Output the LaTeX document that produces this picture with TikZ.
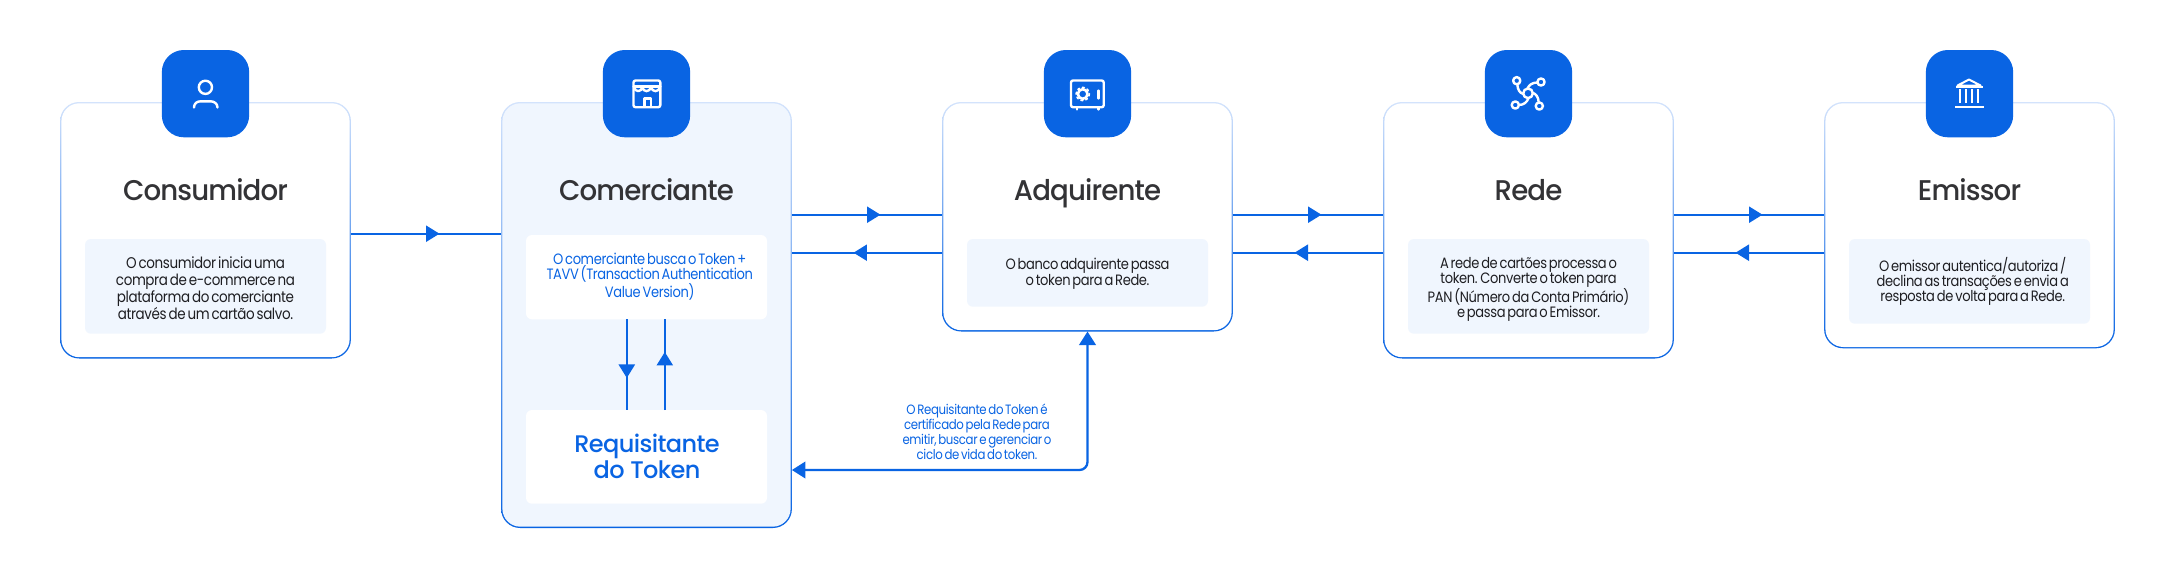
\documentclass[tikz,border=0pt]{standalone}
\usepackage{fontspec}
\setmainfont{Poppins}[FakeStretch=0.87,LetterSpace=-2.5,WordSpace=0.6]
\newfontfamily\medfont{Poppins Medium}[LetterSpace=-2.5]
\newfontfamily\headfont{Poppins Medium}[FakeStretch=0.97,LetterSpace=-3]
\usetikzlibrary{arrows.meta,decorations.markings}
\definecolor{brand}{HTML}{0964E3}
\definecolor{pale}{HTML}{F0F6FE}
\definecolor{edgetop}{HTML}{D3E3FC}
\definecolor{ink}{HTML}{333336}
\definecolor{bodyink}{HTML}{1E1E22}
\tikzset{
  x=1pt,y=-1pt,
  cardedge/.style={shape=rectangle,inner sep=0pt,outer sep=0pt,rounded corners=19pt,top color=edgetop,bottom color=brand,minimum width=290.8pt},
  cardfill/.style={shape=rectangle,inner sep=0pt,outer sep=0pt,rounded corners=18pt,fill=white,minimum width=288.2pt},
  notebox/.style={shape=rectangle,inner sep=0pt,outer sep=0pt,rounded corners=6pt,fill=pale,minimum width=241pt},
  iconbox/.style={shape=rectangle,inner sep=0pt,outer sep=0pt,rounded corners=22pt,fill=brand,minimum width=87.3pt,minimum height=87.3pt},
  titletext/.style={text=ink,font=\headfont\fontsize{28.5}{32}\selectfont,inner sep=0pt,anchor=base},
  bodytext/.style={text=bodyink,align=center,inner sep=0pt,text depth=4pt},
  flow/.style={draw=brand,line width=2.3pt},
  midarrow/.style={postaction={decorate},decoration={markings,mark=at position #1 with {\arrow{Triangle[length=13.5pt,width=16pt,fill=brand]}}}},
  glyph/.style={draw=white,line width=2.4pt,line cap=round,line join=round,fill=none},
}
\begin{document}
\begin{tikzpicture}
\useasboundingbox (0,0) rectangle (2175,579);
\fill[white] (0,0) rectangle (2175,579);
% cards
\node[cardedge,minimum height=256.5pt] (cons) at (205.5,230.25) {};
\node[cardedge,minimum height=426pt] (com) at (646.5,315) {};
\node[cardedge,minimum height=229.5pt] (adq) at (1087.5,216.75) {};
\node[cardedge,minimum height=256.5pt] (rede) at (1528.5,230.25) {};
\node[cardedge,minimum height=246.3pt] (emi) at (1969.5,225.15) {};
\node[cardfill,minimum height=253.9pt] (consin) at (205.5,230.25) {};
\node[cardfill,fill=pale,minimum height=423.4pt] (comin) at (646.5,315) {};
\node[cardfill,minimum height=226.9pt] (adqin) at (1087.5,216.75) {};
\node[cardfill,minimum height=253.9pt] (redein) at (1528.5,230.25) {};
\node[cardfill,minimum height=243.7pt] (emiin) at (1969.5,225.15) {};
% inner boxes
\node[notebox,minimum height=94.7pt] (consnote) at (205.5,286.35) {};
\node[notebox,fill=white,minimum height=84.3pt] (comnote) at (646.5,277.15) {};
\node[notebox,fill=white,minimum height=93.7pt] (reqbox) at (646.5,456.85) {};
\node[notebox,minimum height=67.7pt] (adqnote) at (1087.5,272.85) {};
\node[notebox,minimum height=94.7pt] (redenote) at (1528.5,286.35) {};
\node[notebox,minimum height=84.7pt] (eminote) at (1969.5,281.35) {};
% icon boxes
\node[iconbox] (consicon) at (205.5,93.65) {};
\node[iconbox] (comicon) at (646.5,93.65) {};
\node[iconbox] (adqicon) at (1087.5,93.65) {};
\node[iconbox] (redeicon) at (1528.5,93.65) {};
\node[iconbox] (emiicon) at (1969.5,93.65) {};
% titles
\node[titletext] (t1) at (205.5,200.5) {Consumidor};
\node[titletext] (t2) at (646.5,200.5) {Comerciante};
\node[titletext] (t3) at (1087.5,200.5) {Adquirente};
\node[titletext] (t4) at (1528.5,200.5) {Rede};
\node[titletext] (t5) at (1969.5,200.5) {Emissor};
% body texts
\node[bodytext,font=\fontsize{15.5}{17}\selectfont] (b1) at (205.5,290) {O consumidor inicia uma\\compra de e-commerce na\\plataforma do comerciante\\através de um cartão salvo.};
\node[bodytext,text=brand,font=\fontsize{15}{15}\selectfont] (b2) at (649.7,277.5) {O comerciante busca o Token +\\TAVV (Transaction Authentication\\Value Version)};
\node[bodytext,font=\fontsize{15}{16}\selectfont] (b3) at (1087.5,274) {O banco adquirente passa\\o token para a Rede.};
\node[bodytext,font=\fontsize{15}{15}\selectfont] (b4) at (1528.5,289) {A rede de cartões processa o\\token. Converte o token para\\PAN (Número da Conta Primário)\\e passa para o Emissor.};
\node[bodytext,font=\fontsize{15}{15}\selectfont] (b5) at (1972.7,281) {O emissor autentica/autoriza /\\declina as transações e envia a\\resposta de volta para a Rede.};
\node[bodytext,text=brand,font=\medfont\fontsize{24}{26.5}\selectfont] (b6) at (647,458) {Requisitante\\do Token};
\node[bodytext,text=brand,font=\fontsize{13.5}{13.2}\selectfont] (b7) at (977,433.5) {O Requisitante do Token é\\certificado pela Rede para\\emitir, buscar e gerenciar o\\ciclo de vida do token.};
% connector levels
\coordinate (ya) at (0,233.7);
\coordinate (yf) at (0,214.7);
\coordinate (yr) at (0,252.7);
\coordinate (yb) at (0,470);
\coordinate (xd) at (626.8,0);
\coordinate (xu) at (664.8,0);
% connectors
\draw[flow,midarrow=0.59] (cons.east |- ya) -- (com.west |- ya);
\draw[flow,midarrow=0.59] (com.east |- yf) -- (adq.west |- yf);
\draw[flow,midarrow=0.59] (adq.west |- yr) -- (com.east |- yr);
\draw[flow,midarrow=0.59] (adq.east |- yf) -- (rede.west |- yf);
\draw[flow,midarrow=0.59] (rede.west |- yr) -- (adq.east |- yr);
\draw[flow,midarrow=0.59] (rede.east |- yf) -- (emi.west |- yf);
\draw[flow,midarrow=0.59] (emi.west |- yr) -- (rede.east |- yr);
\draw[flow,midarrow=0.647] (xd |- comnote.south) -- (xd |- reqbox.north);
\draw[flow,midarrow=0.64] (xu |- reqbox.north) -- (xu |- comnote.south);
\draw[flow,rounded corners=8pt,{Triangle[length=13.5pt,width=16.5pt]}-{Triangle[length=13.5pt,width=16.5pt]}] (com.east |- yb) -| (adq.south);
% person icon
\begin{scope}[glyph]
\draw[glyph] (205.4,87.3) circle (6.6);
\draw[glyph] (194,107.5) .. controls (194,103.5) and (197,101.3) .. (200.5,101.3) -- (210.5,101.3) .. controls (214,101.3) and (217.5,103.5) .. (217.5,107.5);
% store icon
\draw[glyph,rounded corners=2pt] (633.5,80.5) rectangle (660.3,107.2);
\draw[glyph] (633.5,86.5) -- (660.3,86.5);
\draw[glyph] (634,87) .. controls (635,92.5) and (641.5,92.5) .. (642.3,87) .. controls (643,92.5) and (650,92.5) .. (651,87) .. controls (652,92.5) and (659,92.5) .. (660,87);
\draw[glyph,line cap=butt] (644.3,107.2) -- (644.3,98.3) -- (650.7,98.3) -- (650.7,107.2);
% safe icon
\draw[glyph,rounded corners=2pt] (1071,80.5) rectangle (1103.7,107.2);
\draw[glyph] (1076.7,108) -- (1076.7,109.5);
\draw[glyph] (1098.3,108) -- (1098.3,109.5);
\draw[glyph,line width=2.6pt] (1082.7,94) circle (4.8);
\draw[white,line width=1.6pt,dash pattern=on 2pt off 3.1pt] (1082.7,94) circle (6.6);
\draw[glyph] (1098.3,90.5) -- (1098.3,98.5);
% network icon
\draw[glyph] (1528,93.3) circle (4.8);
\draw[glyph] (1516.7,80.7) circle (3.6);
\draw[glyph] (1541,82) circle (3.6);
\draw[glyph] (1515.3,105) circle (3.6);
\draw[glyph] (1539.3,106) circle (3.6);
\draw[glyph] (1517.3,84.2) .. controls (1517.5,90) and (1520,93) .. (1523.2,94);
\draw[glyph] (1537.6,82.5) .. controls (1532,82.5) and (1529,85) .. (1527.5,88.5);
\draw[glyph] (1538.7,102.5) .. controls (1538.5,97) and (1536,94) .. (1532.8,92.8);
\draw[glyph] (1518.7,105) .. controls (1524,105) and (1527,102) .. (1528.5,98.1);
% bank icon
\fill[white] (1955,105.7) rectangle (1984,108.2);
\draw[glyph,line cap=butt,line width=2.2pt] (1960,89) -- (1960,103.3);
\draw[glyph,line cap=butt,line width=2.2pt] (1966,89) -- (1966,103.3);
\draw[glyph,line cap=butt,line width=2.2pt] (1971.8,89) -- (1971.8,103.3);
\draw[glyph,line cap=butt,line width=2.2pt] (1977.8,89) -- (1977.8,103.3);
\draw[glyph,line cap=butt,line width=2pt] (1957.5,85.5) -- (1969,79.5) -- (1980.5,85.5) -- cycle;
\fill[white] (1956,85.5) rectangle (1982.5,87.6);
\end{scope}
\end{tikzpicture}
\end{document}
